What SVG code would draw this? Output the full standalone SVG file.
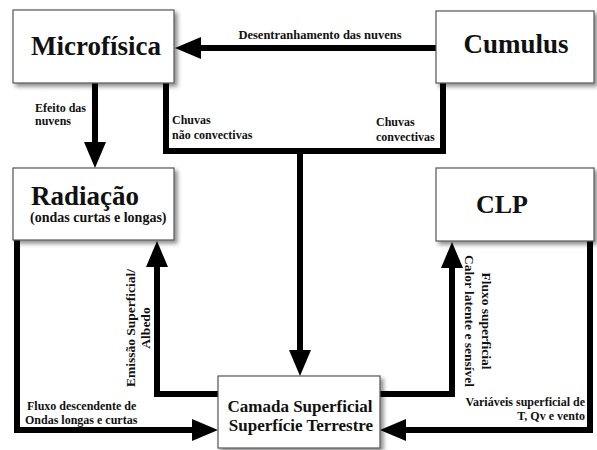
<svg xmlns="http://www.w3.org/2000/svg" width="597" height="450" viewBox="0 0 597 450">
<style>
.box{fill:#fff;stroke:#555;stroke-width:1.2;filter:url(#sh)}
.t{font-family:"Liberation Serif","Times New Roman",serif;font-weight:bold;fill:#111}
.big{font-size:27px}
.mid{font-size:17px}
.lbl{font-size:12px}
.vl{font-size:13.5px}
.ln{fill:none;stroke:#000;stroke-width:6;stroke-linejoin:miter}
.arr{fill:none;stroke:#000;stroke-width:6;marker-end:url(#ah)}
</style>
<defs>
<filter id="sh" x="-10%" y="-10%" width="130%" height="140%">
<feDropShadow dx="3" dy="3" stdDeviation="2" flood-color="#000" flood-opacity="0.45"/>
</filter>
<marker id="ah" markerUnits="userSpaceOnUse" markerWidth="26" markerHeight="22" refX="0" refY="11" orient="auto" viewBox="0 0 26 22">
<path d="M0,0 L26,11 L0,22 Z" fill="#000"/>
</marker>
</defs>
<rect width="597" height="450" fill="#fff"/>

<g id="connectors">
<line class="arr" x1="436" y1="48" x2="201" y2="48"/>
<line class="arr" x1="95" y1="83" x2="95" y2="142"/>
<polyline class="ln" points="166,83 166,151 443,151 443,83"/>
<line class="arr" x1="300" y1="151" x2="300" y2="350"/>
<polyline class="arr" points="17,240 17,430 192,430"/>
<polyline class="arr" points="218,394 157,394 157,267"/>
<polyline class="arr" points="380,394 452,394 452,268"/>
<polyline class="arr" points="590,241 590,430 406,430"/>
</g>

<g id="labels">
<text class="t lbl" x="320" y="39" text-anchor="middle" style="font-size:12.5px">Desentranhamento das nuvens</text>
<text class="t lbl" x="35" y="112">Efeito das</text>
<text class="t lbl" x="35" y="125">nuvens</text>
<text class="t lbl" x="172" y="124">Chuvas</text>
<text class="t lbl" x="172" y="139">não convectivas</text>
<text class="t lbl" x="376" y="126">Chuvas</text>
<text class="t lbl" x="376" y="141">convectivas</text>
<text class="t lbl" x="27" y="410">Fluxo descendente de</text>
<text class="t lbl" x="25" y="424">Ondas longas e curtas</text>
<text class="t lbl" x="585" y="406" text-anchor="end">Variáveis superficial de</text>
<text class="t lbl" x="585" y="420" text-anchor="end">T, Qv e vento</text>
<text class="t vl" transform="translate(135,328) rotate(-90)" text-anchor="middle">Emissão Superficial/<tspan x="0" dy="15">Albedo</tspan></text>
<text class="t vl" transform="translate(482,321) rotate(90)" text-anchor="middle">Fluxo superficial<tspan x="0" dy="17">Calor latente e sensível</tspan></text>
</g>

<g id="microfisica">
<rect class="box" x="13" y="10" width="161" height="73"/>
<text class="t big" x="96" y="55" text-anchor="middle">Microfísica</text>
</g>
<g id="cumulus">
<rect class="box" x="436" y="11" width="158" height="72"/>
<text class="t big" x="516" y="53" text-anchor="middle">Cumulus</text>
</g>
<g id="radiacao">
<rect class="box" x="13" y="168" width="161" height="72"/>
<text class="t big" x="31" y="205">Radiação</text>
<text class="t" x="30" y="222" style="font-size:14px">(ondas curtas e longas)</text>
</g>
<g id="clp">
<rect class="box" x="436" y="168" width="158" height="73"/>
<text class="t big" x="502" y="213" text-anchor="middle" style="font-size:26px">CLP</text>
</g>
<g id="camada">
<rect class="box" x="218" y="376" width="162" height="72"/>
<text class="t mid" x="300" y="412" text-anchor="middle">Camada Superficial</text>
<text class="t mid" x="301" y="431" text-anchor="middle">Superfície Terrestre</text>
</g>
</svg>
